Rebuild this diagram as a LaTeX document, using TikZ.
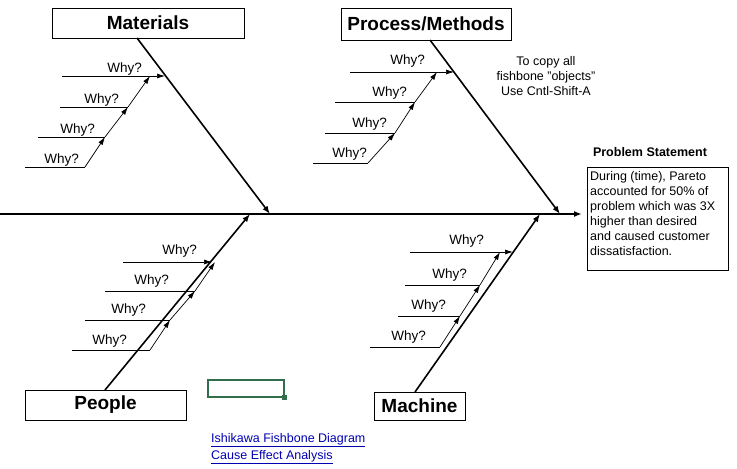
\documentclass[tikz,border=0pt]{standalone}
\usepackage{fontspec}
\setmainfont{Liberation Sans}
\usetikzlibrary{arrows,arrows.meta}
\usetikzlibrary{positioning}
\tikzset{
  cat/.style={draw, thick, font=\fontsize{19}{21}\selectfont\bfseries, inner sep=0pt},
  why/.style={font=\fontsize{13.5}{15}\selectfont, anchor=south east, inner sep=1pt},
  bone/.style={line width=1.6pt, -{Latex[length=8pt,width=6pt]}},
  whyarrow/.style={line width=0.7pt, -{Latex[length=8pt,width=5pt]}},
  txt/.style={font=\fontsize{12.5}{15}\selectfont, inner sep=0pt, align=left}
}
\begin{document}
\begin{tikzpicture}[x=1pt,y=-1pt]
    \useasboundingbox (0,0) rectangle (737,469);
    % spine
    \coordinate (tail) at (0,214);
    \coordinate (head) at (582,214);
    \draw [bone] (tail) -- (head);
    % category boxes
    \node [cat, minimum width=192, minimum height=30] (mat) at (148,23) {Materials};
    \node [cat, minimum width=170, minimum height=32] (proc) at (426,24) {Process/Methods};
    \node [cat, minimum width=161, minimum height=30] (peop) at (105.5,405) {People};
    \node [cat, minimum width=91, minimum height=28] (mach) at (419.5,406) {Machine};
    \coordinate (matA) at (137,38);   \coordinate (matB) at (270,214);
    \coordinate (procA) at (430,40);  \coordinate (procB) at (560,214);
    \coordinate (peopA) at (105,390); \coordinate (peopB) at (250,214);
    \coordinate (machA) at (415,392); \coordinate (machB) at (540,214);
    \draw [bone] (matA) -- (matB);
    \draw [bone] (procA) -- (procB);
    \draw [bone] (peopA) -- (peopB);
    \draw [bone] (machA) -- (machB);
    % Materials whys
    \draw [whyarrow] (62,76) -- (165,76);
    \draw (60,107) -- (128,107) coordinate (m2);
    \draw (38,137) -- (105,137) coordinate (m3);
    \draw (25,167) -- (85,167) coordinate (m4);
    \coordinate (m1) at (150,76);
    \draw [whyarrow] (m4) -- (m3); \draw [whyarrow] (m3) -- (m2); \draw [whyarrow] (m2) -- (m1);
    \node [why] at (143,76) {Why?};
    \node [why] at (120,107) {Why?};
    \node [why] at (96,137) {Why?};
    \node [why] at (80,167) {Why?};
    % Process whys
    \draw [whyarrow] (350,72) -- (454,72);
    \draw (335,102) -- (415,102) coordinate (p2);
    \draw (325,133) -- (395,133) coordinate (p3);
    \draw (313,163) -- (368,163) coordinate (p4);
    \coordinate (p1) at (437,72);
    \draw [whyarrow] (p4) -- (p3); \draw [whyarrow] (p3) -- (p2); \draw [whyarrow] (p2) -- (p1);
    \node [why] at (426,68) {Why?};
    \node [why] at (408,100) {Why?};
    \node [why] at (388,131) {Why?};
    \node [why] at (368,161) {Why?};
    % People whys
    \draw [whyarrow] (123,262) -- (212,262);
    \draw (105,291) -- (195,291) coordinate (q2);
    \draw (85,320) -- (170,320) coordinate (q3);
    \draw (72,350) -- (150,350) coordinate (q4);
    \coordinate (q1) at (215,262);
    \draw [whyarrow] (q4) -- (q3); \draw [whyarrow] (q3) -- (q2); \draw [whyarrow] (q2) -- (q1);
    \node [why] at (198,258) {Why?};
    \node [why] at (170,288) {Why?};
    \node [why] at (147,317) {Why?};
    \node [why] at (128,348) {Why?};
    % Machine whys
    \draw [whyarrow] (410,252) -- (513,252);
    \draw (405,285) -- (480,285) coordinate (r2);
    \draw (398,316) -- (460,316) coordinate (r3);
    \draw (370,347) -- (440,347) coordinate (r4);
    \coordinate (r1) at (500,252);
    \draw [whyarrow] (r4) -- (r3); \draw [whyarrow] (r3) -- (r2); \draw [whyarrow] (r2) -- (r1);
    \node [why] at (485,248) {Why?};
    \node [why] at (468,282) {Why?};
    \node [why] at (447,313) {Why?};
    \node [why] at (427,344) {Why?};
    % notes
    \node [txt, align=center] (note) at (546,76) {To copy all\\fishbone "objects"\\Use Cntl-Shift-A};
    \node [font=\fontsize{12.5}{14}\selectfont\bfseries] (pslabel) at (650,152) {Problem Statement};
    \node [draw, minimum width=141, minimum height=103, anchor=north west] (psbox) at (587,167) {};
    \node [txt, anchor=north west] (pstext) at ([shift={(3,4)}]psbox.north west) {During (time), Pareto\\accounted for 50\% of\\problem which was 3X\\higher than desired\\and caused customer\\dissatisfaction.};
    % cell cursor
    \definecolor{cellgreen}{RGB}{50,110,75}
    \draw [cellgreen, line width=1.5pt] (208,380) rectangle (284,397);
    \fill [cellgreen] (282,395) rectangle (287,400);
    % links
    \node [txt, text=blue!70!black, anchor=west] (link1) at (211,440) {\underline{Ishikawa Fishbone Diagram}};
    \node [txt, text=blue!70!black, below=3pt of link1.south west, anchor=north west] (link2) {\underline{Cause Effect Analysis}};
\end{tikzpicture}
\end{document}
